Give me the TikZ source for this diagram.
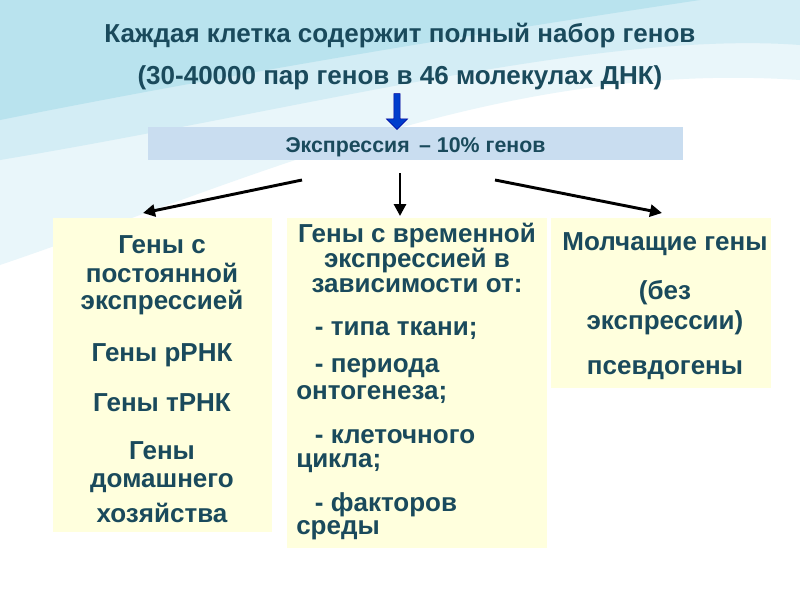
\documentclass[tikz,border=0pt]{standalone}
\usepackage{fontspec}
\setmainfont{Liberation Sans}
\usetikzlibrary{shapes.arrows,arrows.meta}
\definecolor{ttl}{HTML}{1A4A5C}
\definecolor{boxy}{HTML}{FFFFDD}
\definecolor{exb}{HTML}{C9DDF0}
\definecolor{wave}{HTML}{A8DCEA}
\tikzset{
 px/.style={x=0.75pt,y=-0.75pt},
 panel/.style={fill=boxy,draw=none},
 bt/.style={font=\bfseries\fontsize{19.5}{22}\selectfont,text=ttl,inner sep=0pt,yshift=-2pt},
 conn/.style={line width=2.2pt,-{Triangle[length=9pt,width=9pt]}}
}
\begin{document}
\begin{tikzpicture}[px]
\useasboundingbox (0,0) rectangle (800,600);
\fill[white] (0,0) rectangle (800,600);
\fill[wave!25] (0,0) -- (800,0) -- (800,80) .. controls (500,60) and (250,180) .. (0,265) -- cycle;
\fill[wave!50] (0,0) -- (800,0) -- (800,45) .. controls (600,30) and (300,110) .. (0,160) -- cycle;
\fill[wave!80] (0,0) -- (700,0) .. controls (500,30) and (250,70) .. (0,120) -- cycle;
\node[font=\bfseries\fontsize{19.5}{22}\selectfont,text=ttl,yshift=-2pt] (t1) at (400,33) {Каждая клетка содержит полный набор генов};
\node[font=\bfseries\fontsize{19.5}{22}\selectfont,text=ttl,yshift=-2pt] (t2) at (400,75) {(30-40000 пар генов в 46 молекулах ДНК)};
\node[fill=exb,minimum width=401pt,minimum height=25pt,inner sep=0pt] (ex) at (415.5,143.5) {};
\node[font=\bfseries\fontsize{16}{18}\selectfont,text=ttl,yshift=-3pt] at (ex.center) {Экспрессия \,– 10\% генов};
\node[single arrow,shape border rotate=270,fill=blue!70!cyan!80!black,draw=blue!60!black,minimum height=27pt,minimum width=16pt,single arrow head extend=3pt,inner sep=1pt] (ba) at (397,110) {};
\node[panel,minimum width=164pt,minimum height=235.5pt,inner sep=0pt] (L) at (162.5,375) {};
\node[panel,minimum width=195pt,minimum height=247.5pt,inner sep=0pt] (M) at (417,383) {};
\node[panel,minimum width=165pt,minimum height=127.5pt,inner sep=0pt] (R) at (661,303) {};
\coordinate (s1) at (302,180); \coordinate (s2) at (400,173); \coordinate (s3) at (495,180);
\coordinate (e1) at (143,213); \coordinate (e2) at (400,216); \coordinate (e3) at (662,213);
\draw[conn] (s1) -- (e1);
\draw[conn] (s2) -- (e2);
\draw[conn] (s3) -- (e3);
% left
\node[bt] at (162,242) {Гены с};
\node[bt] at (162,270) {постоянной};
\node[bt] at (162,300) {экспрессией};
\node[bt] at (162,353) {Гены рРНК};
\node[bt] at (162,400) {Гены тРНК};
\node[bt] at (162,448) {Гены};
\node[bt] at (162,480) {домашнего};
\node[bt] at (162,510) {хозяйства};
% middle
\node[bt] at (417,233) {Гены с временной};
\node[bt] at (417,258) {экспрессией в};
\node[bt] at (417,283) {зависимости от:};
\node[bt,anchor=west] at (296,328) {\hspace{14pt}- типа ткани;};
\node[bt,anchor=west] at (296,366) {\hspace{14pt}- периода};
\node[bt,anchor=west] at (296,392) {онтогенеза;};
\node[bt,anchor=west] at (296,434) {\hspace{14pt}- клеточного};
\node[bt,anchor=west] at (296,460) {цикла;};
\node[bt,anchor=west] at (296,502) {\hspace{14pt}- факторов};
\node[bt,anchor=west] at (296,528) {среды};
% right
\node[bt] at (665,241) {Молчащие гены};
\node[bt] at (665,290) {(без};
\node[bt] at (665,320) {экспрессии)};
\node[bt] at (665,367) {псевдогены};
\end{tikzpicture}
\end{document}
